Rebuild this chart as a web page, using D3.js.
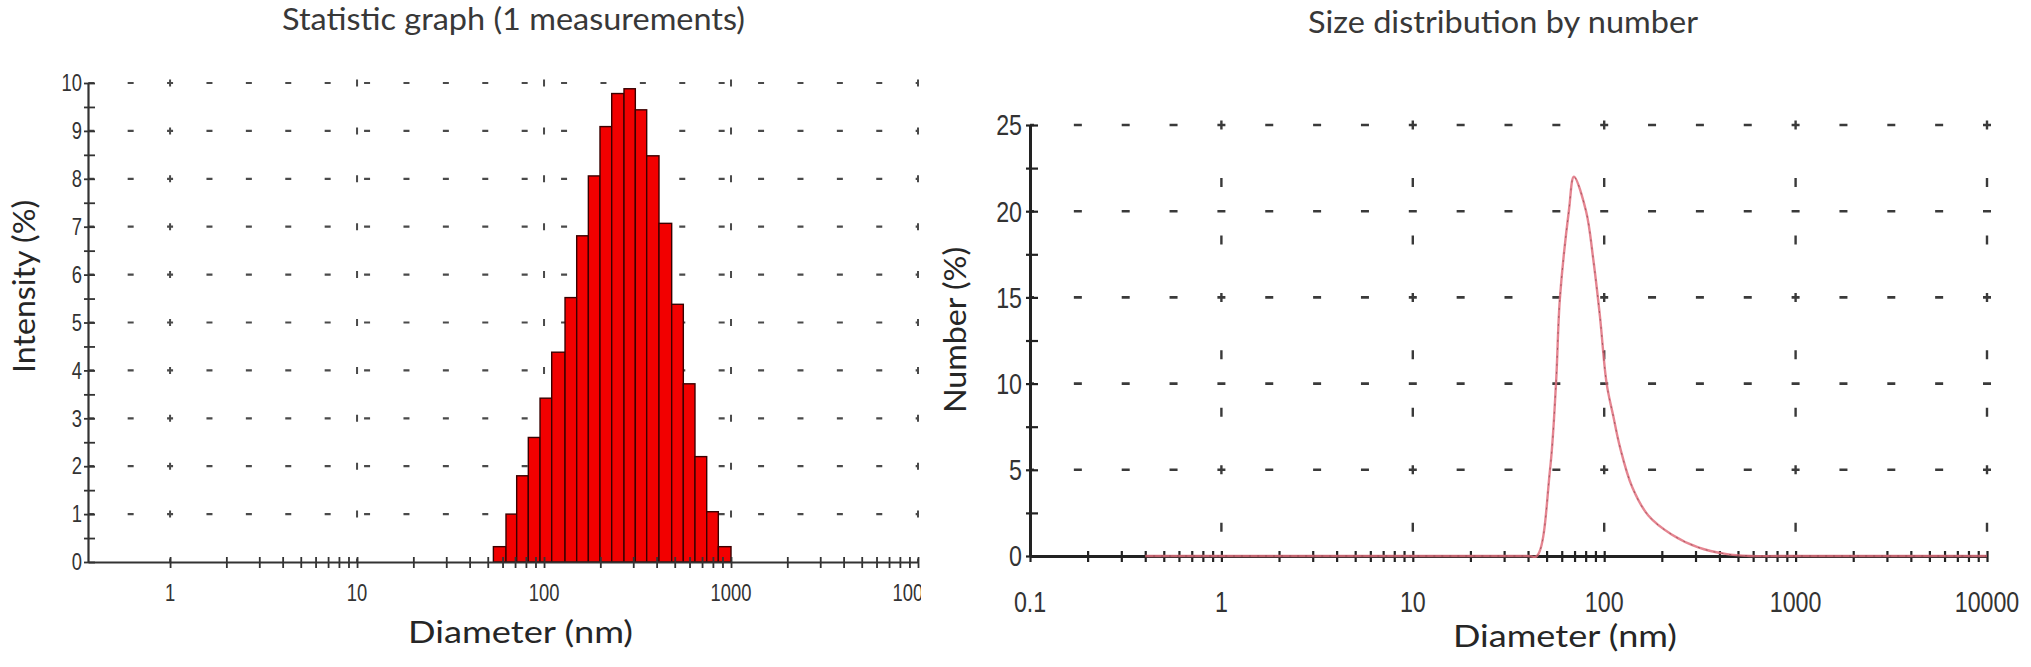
<!DOCTYPE html>
<html>
<head>
<meta charset="utf-8">
<script src="https://cdn.jsdelivr.net/npm/d3@7"></script>
<style>
body { margin: 0; background: #fff; }
svg text { font-family: Lato, "Open Sans", sans-serif; }
.ticklab { font-family: "Liberation Sans", Arial, sans-serif; }
</style>
</head>
<body>
<svg id="chart"></svg>
<script>
// Left chart: intensity histogram (bin edges in nm, one value per bar)
var binEdges = [53.6, 62.6, 71.4, 82.4, 95.2, 109.9, 129.5, 149.5, 172.6, 199.2, 230.1,
	267.7, 307.8, 354.0, 411.9, 481.6, 555.8, 641.6, 741.3, 855.3, 1000];
var intensity = [0.32, 1.0, 1.8, 2.6, 3.42, 4.38, 5.52, 6.81, 8.06, 9.09,
	9.78, 9.88, 9.44, 8.48, 7.07, 5.38, 3.72, 2.2, 1.05, 0.32];
var intensityTicks = [0, 1, 2, 3, 4, 5, 6, 7, 8, 9, 10];
var diameterTicksLeft = [1, 10, 100, 1000, 10000];

// Right chart: size distribution by number
var numberDiameter = [0.4, 40, 44.5, 52.1, 56.0, 58.7, 65.5, 69.5, 80.4, 87.7, 95, 103,
	111.6, 121, 140, 170, 225, 310, 430, 580, 800, 10000];
var numberPercent = [0, 0, 0, 5.0, 10.0, 14.95, 20.1, 22.0, 20.0, 17.2, 13.9, 10.0,
	8.1, 6.3, 4.0, 2.35, 1.25, 0.5, 0.12, 0, 0, 0];
var numberTicks = [0, 5, 10, 15, 20, 25];
var diameterTicksRight = [0.1, 1, 10, 100, 1000, 10000];

var width = 2031,
	height = 667;

var svg = d3.select("#chart")
	.attr("width", width)
	.attr("height", height);

svg.append("rect")
	.attr("width", width)
	.attr("height", height)
	.attr("fill", "#fff");

svg.append("defs").append("clipPath")
	.attr("id", "clipL")
	.append("rect")
	.attr("width", 921)
	.attr("height", height);

// ---------- left panel ----------
var xL = d3.scaleLog().domain([0.364, 10000]).range([88, 918]);
var yL = d3.scaleLinear().domain([0, 10]).range([562, 83]);

var left = svg.append("g").attr("clip-path", "url(#clipL)");

// dotted grid rows
var periodL = 39.4;
left.append("g").selectAll("line")
	.data(intensityTicks.slice(1))
	.enter().append("line")
	.attr("x1", xL.range()[0])
	.attr("x2", xL.range()[1])
	.attr("y1", function (d) { return yL(d); })
	.attr("y2", function (d) { return yL(d); })
	.attr("stroke", "#4a4a4a")
	.attr("stroke-width", 2.2)
	.attr("stroke-dasharray", "6 " + (periodL - 6))
	.attr("stroke-dashoffset", -(xL(1) - periodL - 3 - xL.range()[0]));

// grid columns at decades
var rowGap = yL(0) - yL(1);
left.append("g").selectAll("line")
	.data(diameterTicksLeft)
	.enter().append("line")
	.attr("x1", function (d) { return xL(d); })
	.attr("x2", function (d) { return xL(d); })
	.attr("y1", yL(10) - 3.5)
	.attr("y2", yL(0))
	.attr("stroke", "#4a4a4a")
	.attr("stroke-width", 2)
	.attr("stroke-dasharray", "7 " + (rowGap - 7));

// bars
left.append("g").selectAll("rect")
	.data(intensity)
	.enter().append("rect")
	.attr("x", function (d, i) { return xL(binEdges[i]); })
	.attr("width", function (d, i) { return xL(binEdges[i + 1]) - xL(binEdges[i]); })
	.attr("y", function (d) { return yL(d); })
	.attr("height", function (d) { return yL(0) - yL(d); })
	.attr("fill", "#f20000")
	.attr("stroke", "#3a0000")
	.attr("stroke-width", 1.4);

// x axis
var axL = left.append("g")
	.attr("transform", "translate(0," + yL(0) + ")")
	.attr("color", "#333")
	.call(d3.axisBottom(xL)
		.tickValues(xL.ticks().filter(function (d) { return d >= 1; }))
		.tickSizeOuter(0)
		.tickFormat(""));
axL.select(".domain").attr("stroke-width", 2.2);
axL.selectAll(".tick line")
	.attr("y1", -5)
	.attr("y2", 6)
	.attr("stroke-width", 1.8);

left.append("g").selectAll("text")
	.data(diameterTicksLeft)
	.enter().append("text")
	.attr("class", "ticklab")
	.attr("transform", function (d) { return "translate(" + xL(d) + "," + (yL(0) + 39) + ") scale(0.8,1)"; })
	.attr("text-anchor", "middle")
	.attr("font-size", 23)
	.attr("fill", "#333")
	.text(function (d) { return d; });

// y axis
var ayL = left.append("g")
	.attr("transform", "translate(" + xL.range()[0] + ",0)")
	.attr("color", "#333")
	.call(d3.axisLeft(yL)
		.tickValues(intensityTicks.concat(intensityTicks.slice(1).map(function (d) { return d - 0.5; })))
		.tickSizeOuter(0)
		.tickFormat(""));
ayL.select(".domain").attr("stroke-width", 2.2);
ayL.selectAll(".tick line")
	.attr("x1", -4)
	.attr("x2", 7)
	.attr("stroke-width", 1.8);

left.append("g").selectAll("text")
	.data(intensityTicks)
	.enter().append("text")
	.attr("class", "ticklab")
	.attr("transform", function (d) { return "translate(" + (xL.range()[0] - 6) + "," + yL(d) + ") scale(0.8,1)"; })
	.attr("text-anchor", "end")
	.attr("dy", "0.36em")
	.attr("font-size", 23)
	.attr("fill", "#333")
	.text(function (d) { return d; });

// titles and labels
svg.append("text")
	.attr("x", 513.5).attr("y", 30)
	.attr("text-anchor", "middle")
	.attr("font-size", 30)
	.attr("fill", "#383838")
	.attr("textLength", 463).attr("lengthAdjust", "spacingAndGlyphs")
	.text("Statistic graph (1 measurements)");

svg.append("text")
	.attr("x", 520.5).attr("y", 643)
	.attr("text-anchor", "middle")
	.attr("font-size", 31)
	.attr("fill", "#262626")
	.attr("textLength", 225).attr("lengthAdjust", "spacingAndGlyphs")
	.text("Diameter (nm)");

svg.append("text")
	.attr("transform", "translate(35,286.5) rotate(-90)")
	.attr("text-anchor", "middle")
	.attr("font-size", 30)
	.attr("fill", "#262626")
	.attr("textLength", 173).attr("lengthAdjust", "spacingAndGlyphs")
	.text("Intensity (%)");

// ---------- right panel ----------
var xR = d3.scaleLog().domain([0.1, 10000]).range([1030, 1987]);
var yR = d3.scaleLinear().domain([0, 25]).range([556, 125]);

var right = svg.append("g");

var decade = xR(10) - xR(1);
var periodR = decade / 4;
right.append("g").selectAll("line")
	.data(numberTicks.slice(1))
	.enter().append("line")
	.attr("x1", xR.range()[0])
	.attr("x2", xR.range()[1] + 5)
	.attr("y1", function (d) { return yR(d); })
	.attr("y2", function (d) { return yR(d); })
	.attr("stroke", "#3a3a3a")
	.attr("stroke-width", 2.6)
	.attr("stroke-dasharray", "8 " + (periodR - 8))
	.attr("stroke-dashoffset", -(periodR - 4));

var colGap = (yR(0) - yR(5)) / 1.5;
right.append("g").selectAll("line")
	.data(diameterTicksRight.slice(1))
	.enter().append("line")
	.attr("x1", function (d) { return xR(d); })
	.attr("x2", function (d) { return xR(d); })
	.attr("y1", yR(25) - 4.5)
	.attr("y2", yR(0))
	.attr("stroke", "#3a3a3a")
	.attr("stroke-width", 2.4)
	.attr("stroke-dasharray", "9 " + (colGap - 9));

// x axis
var axR = right.append("g")
	.attr("transform", "translate(0," + yR(0) + ")")
	.attr("color", "#222")
	.call(d3.axisBottom(xR)
		.tickValues(xR.ticks())
		.tickSizeOuter(0)
		.tickFormat(""));
axR.select(".domain").attr("stroke-width", 3);
axR.selectAll(".tick line")
	.attr("y1", -5)
	.attr("y2", 6)
	.attr("stroke-width", 2.2);

right.append("g").selectAll("text")
	.data(diameterTicksRight)
	.enter().append("text")
	.attr("class", "ticklab")
	.attr("transform", function (d) { return "translate(" + xR(d) + "," + (yR(0) + 56) + ") scale(0.8,1)"; })
	.attr("text-anchor", "middle")
	.attr("font-size", 29)
	.attr("fill", "#333")
	.text(function (d) { return d; });

// y axis
var ayR = right.append("g")
	.attr("transform", "translate(" + xR.range()[0] + ",0)")
	.attr("color", "#222")
	.call(d3.axisLeft(yR)
		.tickValues(numberTicks.concat(numberTicks.slice(1).map(function (d) { return d - 2.5; })))
		.tickSizeOuter(0)
		.tickFormat(""));
ayR.select(".domain").attr("stroke-width", 3);
ayR.selectAll(".tick line")
	.attr("x1", -4)
	.attr("x2", 8)
	.attr("stroke-width", 2.2);

right.append("g").selectAll("text")
	.data(numberTicks)
	.enter().append("text")
	.attr("class", "ticklab")
	.attr("transform", function (d) { return "translate(" + (xR.range()[0] - 8) + "," + yR(d) + ") scale(0.8,1)"; })
	.attr("text-anchor", "end")
	.attr("dy", "0.36em")
	.attr("font-size", 29)
	.attr("fill", "#333")
	.text(function (d) { return d; });

// the number curve
var pts = numberDiameter.map(function (d, i) { return [d, numberPercent[i]]; });
var line = d3.line()
	.x(function (d) { return xR(d[0]); })
	.y(function (d) { return Math.min(yR(0), yR(d[1])); })
	.curve(d3.curveCatmullRom.alpha(0.5));

right.append("path")
	.datum(pts)
	.attr("d", line)
	.attr("fill", "none")
	.attr("stroke", "#e0707e")
	.attr("stroke-width", 2.4)
	.attr("opacity", 0.85);

right.append("path")
	.datum(pts)
	.attr("d", line)
	.attr("fill", "none")
	.attr("stroke", "#7a3840")
	.attr("stroke-width", 1)
	.attr("stroke-dasharray", "2 6")
	.attr("opacity", 0.6);

svg.append("text")
	.attr("x", 1503).attr("y", 33)
	.attr("text-anchor", "middle")
	.attr("font-size", 30)
	.attr("fill", "#383838")
	.attr("textLength", 390).attr("lengthAdjust", "spacingAndGlyphs")
	.text("Size distribution by number");

svg.append("text")
	.attr("x", 1565).attr("y", 647)
	.attr("text-anchor", "middle")
	.attr("font-size", 31)
	.attr("fill", "#262626")
	.attr("textLength", 224).attr("lengthAdjust", "spacingAndGlyphs")
	.text("Diameter (nm)");

svg.append("text")
	.attr("transform", "translate(966,330) rotate(-90)")
	.attr("text-anchor", "middle")
	.attr("font-size", 30)
	.attr("fill", "#262626")
	.attr("textLength", 166).attr("lengthAdjust", "spacingAndGlyphs")
	.text("Number (%)");
</script>
</body>
</html>
